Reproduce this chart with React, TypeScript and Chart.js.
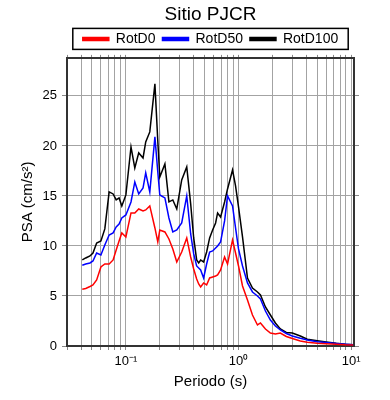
import React, { useEffect, useRef } from 'react';
import { Chart, registerables } from 'chart.js';

Chart.register(...registerables);

// ---- data ----
const periods = [
  0.041, 0.044, 0.048, 0.051, 0.055, 0.06, 0.065, 0.071, 0.077, 0.082, 0.087, 0.092,
  0.1, 0.111, 0.12, 0.13, 0.142, 0.15, 0.163, 0.181, 0.192, 0.2, 0.222, 0.241, 0.261,
  0.283, 0.313, 0.347, 0.376, 0.4, 0.425, 0.443, 0.461, 0.49, 0.521, 0.554, 0.589,
  0.626, 0.652, 0.693, 0.752, 0.799, 0.885, 0.941, 1.0, 1.085, 1.201, 1.33, 1.473,
  1.566, 1.734, 1.919, 2.125, 2.352, 2.657, 3.003, 3.537, 4.081, 5.0, 6.0, 7.37, 8.85, 10.4,
];

const rotD0 = [
  5.67, 5.75, 5.95, 6.1, 6.6, 7.9, 8.2, 8.2, 8.6, 9.6, 10.5, 11.3,
  10.9, 13.3, 13.3, 13.7, 13.5, 13.6, 14.0, 11.8, 10.4, 11.6, 11.4, 10.7, 9.7,
  8.4, 9.4, 10.8, 8.9, 7.7, 6.7, 6.2, 5.9, 6.3, 6.1, 6.8, 6.9,
  7.0, 7.1, 7.6, 8.9, 8.2, 10.6, 9.3, 8.0, 6.0, 4.6, 3.1, 2.1,
  2.3, 1.7, 1.3, 1.2, 1.3, 0.95, 0.75, 0.5, 0.38, 0.27, 0.22, 0.17, 0.12, 0.1,
];

const rotD50 = [
  8.07, 8.2, 8.3, 8.5, 9.3, 9.1, 10.1, 11.1, 11.3, 11.9, 12.2, 12.8,
  13.1, 14.4, 16.4, 15.2, 15.8, 17.3, 15.4, 20.9, 17.4, 15.1, 14.8, 12.8, 11.4,
  11.6, 12.3, 15.0, 11.2, 9.2, 8.0, 7.8, 7.6, 6.8, 8.2, 9.4, 9.5,
  9.8, 10.0, 10.4, 12.5, 15.0, 14.0, 11.8, 9.7, 8.0, 6.3, 5.4, 5.0,
  4.7, 3.5, 2.6, 2.0, 1.6, 1.25, 1.0, 0.77, 0.6, 0.43, 0.35, 0.25, 0.18, 0.12,
];

const rotD100 = [
  8.6, 8.8, 9.0, 9.3, 10.3, 10.5, 11.7, 15.4, 15.2, 14.6, 14.8, 14.0,
  15.1, 19.9, 17.8, 19.3, 18.8, 20.4, 21.4, 26.2, 20.5, 16.9, 18.2, 14.4, 14.6,
  13.7, 16.6, 17.9, 14.2, 10.8, 8.6, 8.3, 8.6, 8.4, 9.4, 10.8, 11.6,
  12.3, 13.3, 12.9, 14.4, 15.7, 17.6, 16.0, 13.9, 10.9, 6.8, 5.8, 5.4,
  5.1, 3.9, 3.1, 2.3, 1.7, 1.35, 1.3, 1.0, 0.67, 0.53, 0.4, 0.27, 0.18, 0.12,
];

const seriesLabels = ['RotD0', 'RotD50', 'RotD100'];
const seriesColors = ['#ff0000', '#0000ff', '#000000'];
const yTickValues = [0, 5, 10, 15, 20, 25];
const xMajorValues = [0.1, 1, 10];
const xMajorLabels = ['10\u207B\u00B9', '10\u2070', '10\u00B9'];
const chartTitle = 'Sitio PJCR';
const xTitle = 'Periodo (s)';
const yTitle = 'PSA (cm/s\u00B2)';

const X_MIN = 0.03;
const X_MAX = 10.6;
const Y_MIN = 0;
const Y_MAX = 28.8;

const FONT = '"Liberation Sans", Arial, Helvetica, sans-serif';
const GRID = '#a3a3a3';
const FRAME = '#333333';

function logTicks() {
  const out: { value: number }[] = [];
  for (let e = -2; e <= 1; e++) {
    for (let m = 1; m <= 9; m++) {
      const v = Number((m * Math.pow(10, e)).toPrecision(6));
      if (v >= X_MIN - 1e-9 && v <= X_MAX + 1e-9) out.push({ value: v });
    }
  }
  return out;
}

function xLabel(v: number) {
  for (let i = 0; i < xMajorValues.length; i++) {
    if (Math.abs(v - xMajorValues[i]) < 1e-9 * Math.max(1, v)) return xMajorLabels[i];
  }
  return '';
}

const legendFrame = {
  id: 'legendFrame',
  afterDraw(chart: any) {
    const lg = chart.legend;
    if (!lg || !lg.legendHitBoxes || !lg.legendHitBoxes.length) return;
    const hb = lg.legendHitBoxes;
    const first = hb[0];
    const last = hb[hb.length - 1];
    const left = first.left - 10;
    const right = last.left + last.width + 10;
    const cy = first.top + first.height / 2;
    const ctx = chart.ctx;
    ctx.save();
    ctx.strokeStyle = '#000';
    ctx.lineWidth = 1.5;
    ctx.strokeRect(left, cy - 10.5, right - left, 21);
    ctx.restore();
  },
};

export default function App() {
  const canvasRef = useRef<HTMLCanvasElement | null>(null);

  useEffect(() => {
    if (!canvasRef.current) return;
    Chart.defaults.font.family = FONT;
    Chart.defaults.color = '#000';

    const seriesValues = [rotD0, rotD50, rotD100];
    const datasets = seriesValues.map((vals, i) => ({
      label: seriesLabels[i],
      data: periods.map((p, j) => ({ x: p, y: vals[j] })),
      borderColor: seriesColors[i],
      backgroundColor: seriesColors[i],
      borderWidth: 1.5,
      pointRadius: 0,
      tension: 0,
      xAxisID: 'x',
      yAxisID: 'y',
    }));

    const chart = new Chart(canvasRef.current, {
      type: 'line',
      data: { datasets },
      plugins: [legendFrame],
      options: {
        animation: false,
        responsive: false,
        maintainAspectRatio: false,
        layout: { padding: 0 },
        plugins: {
          tooltip: { enabled: false },
          title: {
            display: true,
            text: chartTitle,
            fullSize: false,
            color: '#000',
            font: { size: 19, weight: 'normal', lineHeight: 1.1 },
            padding: { top: 4, bottom: 0 },
          },
          legend: {
            display: true,
            position: 'top',
            fullSize: false,
            labels: {
              boxWidth: 26,
              boxHeight: 3,
              padding: 7,
              color: '#000',
              font: { size: 14 },
            },
          },
        },
        scales: {
          x: {
            type: 'logarithmic',
            position: 'bottom',
            min: X_MIN,
            max: X_MAX,
            afterBuildTicks: (s: any) => { s.ticks = logTicks(); },
            afterFit: (s: any) => { s.height = 54; },
            grid: { color: GRID, lineWidth: 1, drawTicks: true, tickLength: 4, tickColor: '#888' },
            border: { display: true, color: FRAME, width: 2 },
            ticks: {
              autoSkip: false,
              maxRotation: 0,
              minRotation: 0,
              padding: 4,
              font: { size: 13 },
              color: '#000',
              callback: (v: any) => xLabel(Number(v)),
            },
            title: { display: true, text: xTitle, font: { size: 15 }, color: '#000', padding: { top: 0, bottom: 9 } },
          },
          x2: {
            type: 'logarithmic',
            position: 'top',
            min: X_MIN,
            max: X_MAX,
            afterBuildTicks: (s: any) => { s.ticks = logTicks(); },
            afterFit: (s: any) => { s.height = 2; },
            grid: { drawOnChartArea: false, drawTicks: true, tickLength: 3, tickColor: '#888' },
            border: { display: true, color: FRAME, width: 2 },
            ticks: { display: false },
          },
          y: {
            type: 'linear',
            position: 'left',
            min: Y_MIN,
            max: Y_MAX,
            afterBuildTicks: (s: any) => { s.ticks = yTickValues.map((v) => ({ value: v })); },
            afterFit: (s: any) => { s.width = 67; },
            grid: { color: GRID, lineWidth: 1, drawTicks: true, tickLength: 5, tickColor: '#888' },
            border: { display: true, color: FRAME, width: 2 },
            ticks: { padding: 5, font: { size: 13 }, color: '#000' },
            title: { display: true, text: yTitle, font: { size: 15 }, color: '#000', padding: { top: 19, bottom: 0 } },
          },
          y2: {
            type: 'linear',
            position: 'right',
            min: Y_MIN,
            max: Y_MAX,
            afterBuildTicks: (s: any) => { s.ticks = yTickValues.map((v) => ({ value: v })); },
            afterFit: (s: any) => { s.width = 36; },
            grid: { drawOnChartArea: false, drawTicks: true, tickLength: 5, tickColor: '#888' },
            border: { display: true, color: FRAME, width: 2 },
            ticks: { display: false },
          },
        },
      } as any,
    });

    return () => chart.destroy();
  }, []);

  return (
    <div style={{ position: 'fixed', left: 0, top: 0, width: 390, height: 400, background: '#fff' }}>
      <canvas ref={canvasRef} width={390} height={400} style={{ display: 'block', width: 390, height: 400 }} />
    </div>
  );
}
